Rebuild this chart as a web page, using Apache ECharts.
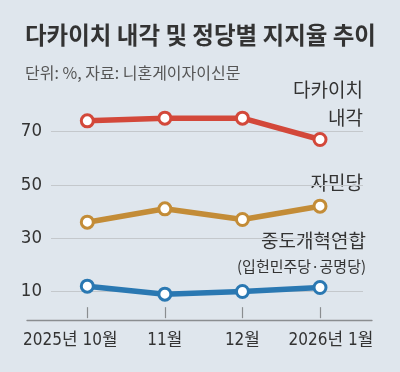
<!DOCTYPE html>
<html><head><meta charset="utf-8">
<script src="https://cdn.jsdelivr.net/npm/echarts@6/dist/echarts.min.js"></script>
<style>html,body{margin:0;padding:0;background:#dfe6ed}#c{width:400px;height:372px}</style>
</head><body><div id="c"></div>
<script>
// ---- data ----
const categories = ['2025년 10월', '11월', '12월', '2026년 1월'];
const takaichiCabinet = [74, 75, 75, 67];
const ldp = [36, 41, 37, 42];
const centristReform = [12, 9, 10, 11.5];
const yTicks = [10, 30, 50, 70];
const titleText = '다카이치 내각 및 정당별 지지율 추이';
const subtitleText = '단위: %, 자료: 니혼게이자이신문';
const labelCabinet = ['다카이치', '내각'];
const labelLdp = '자민당';
const labelCentrist = ['중도개혁연합', '(입헌민주당·공명당)'];

// ---- style ----
const NUM = '"Liberation Sans Narrow","DejaVu Sans Condensed","Noto Sans CJK KR",sans-serif';
const KR = '"Noto Sans CJK KR","Noto Sans",sans-serif';
const TXT = '#333333';
const RED = '#d3483a', GOLD = '#c38c37', BLUE = '#2a78b2';
const AXIS = '#8a8d90', GRID = '#c4c8cc';
const XFS = 17;

const chart = echarts.init(document.getElementById('c'), null, {renderer: 'canvas'});
const unit = 160 / (yTicks[yTicks.length - 1] - yTicks[0]);

function mk(name, data, color) {
  return {
    name, type: 'line', data, xAxisIndex: 1, yAxisIndex: 1,
    symbol: 'circle', symbolSize: 12, clip: false,
    lineStyle: {color, width: 5.5},
    itemStyle: {color: '#ffffff', borderColor: color, borderWidth: 3},
    emphasis: {disabled: true}, z: 5
  };
}

chart.setOption({
  backgroundColor: '#dfe6ed',
  animation: false,
  grid: [
    {left: 51, right: 37, top: 131.5, height: 160},
    {left: 87.3, right: 80, top: 131.5 - 10 * unit, height: 81 * unit},
    {left: 27, right: 28, top: 300, bottom: 52}
  ],
  xAxis: [
    {gridIndex: 0, type: 'category', data: categories, show: false},
    {gridIndex: 1, type: 'category', data: categories, boundaryGap: false,
      axisLine: {show: false},
      axisTick: {show: true, inside: true, length: 11, lineStyle: {color: AXIS, width: 1.2}},
      axisLabel: {
        margin: 11, interval: 0, color: TXT,
        formatter: (v, i) => i === 0 ? '{t|' + v + '}{s0| }' : (i === 3 ? '{s3| }{t|' + v + '}' : '{t|' + v + '}'),
        rich: {
          t: {fontSize: XFS, fontFamily: NUM, color: TXT},
          s0: {width: 34, fontSize: XFS},
          s3: {width: 22, fontSize: XFS}
        }
      },
      splitLine: {show: false}},
    {gridIndex: 2, type: 'value', min: 0, max: 1,
      axisLine: {show: true, onZero: false, lineStyle: {color: AXIS, width: 1.3}},
      axisTick: {show: false}, axisLabel: {show: false}, splitLine: {show: false}}
  ],
  yAxis: [
    {gridIndex: 0, type: 'value', min: yTicks[0], max: yTicks[yTicks.length - 1],
      interval: yTicks[1] - yTicks[0],
      axisLine: {show: false}, axisTick: {show: false},
      axisLabel: {margin: 9, color: TXT, fontSize: 18.5, fontFamily: NUM},
      splitLine: {show: true, lineStyle: {color: GRID, width: 1.2}}},
    {gridIndex: 1, type: 'value', min: -1, max: 80, show: false},
    {gridIndex: 2, type: 'value', min: 0, max: 1, show: false}
  ],
  series: [
    mk('다카이치 내각', takaichiCabinet, RED),
    mk('자민당', ldp, GOLD),
    mk('중도개혁연합', centristReform, BLUE)
  ],
  graphic: [
    {type: 'text', x: 25, y: 35, style: {text: titleText, font: 'bold 23.5px ' + KR, fill: TXT, align: 'left', verticalAlign: 'middle'}},
    {type: 'text', x: 25, y: 72.5, style: {text: subtitleText, font: '16px ' + KR, fill: '#555555', align: 'left', verticalAlign: 'middle'}},
    {type: 'text', x: 363, y: 90, style: {text: labelCabinet[0], font: '19px ' + KR, fill: TXT, align: 'right', verticalAlign: 'middle'}},
    {type: 'text', x: 363, y: 118, style: {text: labelCabinet[1], font: '19px ' + KR, fill: TXT, align: 'right', verticalAlign: 'middle'}},
    {type: 'text', x: 363, y: 183, style: {text: labelLdp, font: '19px ' + KR, fill: TXT, align: 'right', verticalAlign: 'middle'}},
    {type: 'text', x: 366, y: 241, style: {text: labelCentrist[0], font: '19px ' + KR, fill: TXT, align: 'right', verticalAlign: 'middle'}},
    {type: 'text', x: 366, y: 266, style: {text: labelCentrist[1], font: '15px ' + KR, fill: TXT, align: 'right', verticalAlign: 'middle'}}
  ]
});
</script>
</body></html>
